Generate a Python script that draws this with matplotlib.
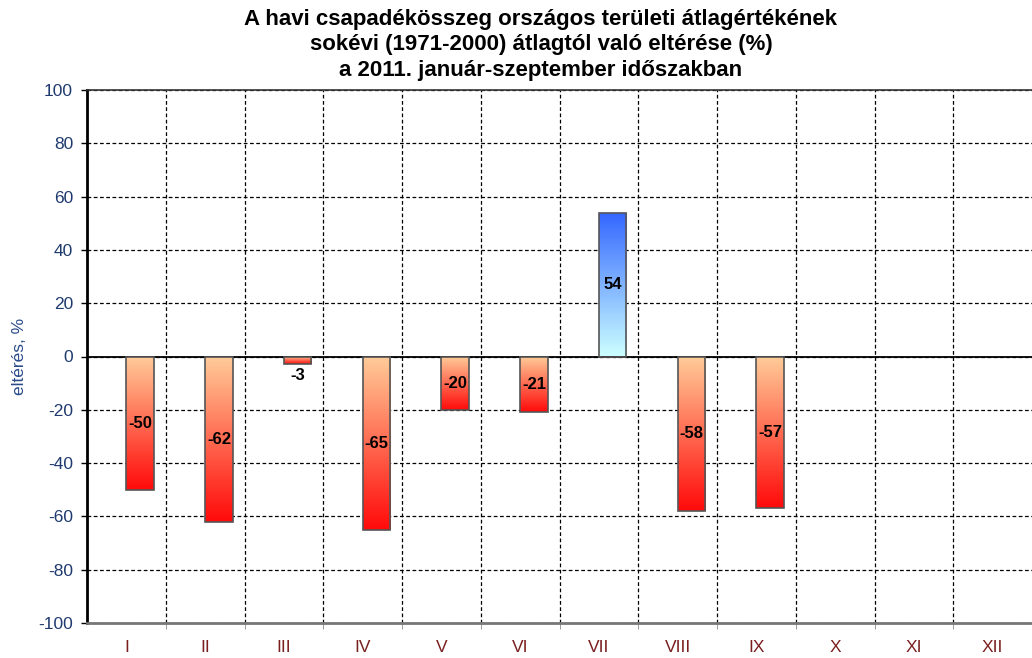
import matplotlib
matplotlib.use("Agg")

import numpy as np
import matplotlib.pyplot as plt
from matplotlib.colors import LinearSegmentedColormap
from matplotlib.patches import Rectangle

months = ["I", "II", "III", "IV", "V", "VI", "VII", "VIII", "IX", "X", "XI", "XII"]
values = [-50, -62, -3, -65, -20, -21, 54, -58, -57]
labels = ["-50", "-62", "-3", "-65", "-20", "-21", "54", "-58", "-57"]

title = ("A havi csapadékösszeg országos területi átlagértékének\n"
         "sokévi (1971-2000) átlagtól való eltérése (%)\n"
         "a 2011. január-szeptember időszakban")

plt.rcParams["font.family"] = ["Liberation Sans", "DejaVu Sans"]
plt.rcParams["axes.unicode_minus"] = False

fig = plt.figure(figsize=(10.32, 6.58), dpi=100)
ax = fig.add_axes([87 / 1032, 1 - 623 / 658, 1 - 87 / 1032, (623 - 90) / 658])

# gradients: negatives light orange at 0 -> red at bottom; positive cyan -> blue
neg_cmap = LinearSegmentedColormap.from_list("neg", ["#ff0a0a", "#ffcc99"])
pos_cmap = LinearSegmentedColormap.from_list("pos", ["#ccffff", "#3366ff"])
grad = np.linspace(0, 1, 256).reshape(-1, 1)

width = 0.35
for i, v in enumerate(values):
    x0 = i
    if v < 0:
        cmap = neg_cmap
        ext = (x0, x0 + width, v, 0)
    else:
        cmap = pos_cmap
        ext = (x0, x0 + width, 0, v)
    im = ax.imshow(grad, cmap=cmap, extent=ext, origin="lower",
                   aspect="auto", zorder=3)
    rect = Rectangle((x0, min(v, 0)), width, abs(v), facecolor="none",
                     edgecolor="#555555", linewidth=1.2, zorder=4)
    ax.add_patch(rect)
    im.set_clip_path(rect)
    ly = v / 2 if abs(v) > 5 else v - 4
    ax.text(x0 + width / 2, ly, labels[i], ha="center", va="center",
            fontsize=12, fontweight="bold", color="black", zorder=5)

ax.set_xlim(-0.5, 11.5)
ax.set_ylim(-100, 100)
ax.set_yticks(np.arange(-100, 101, 20))
ax.set_xticks(range(12))
ax.set_xticklabels(months)
ax.set_xticks(np.arange(0.5, 11.5, 1), minor=True)

ax.grid(True, axis="y", linestyle=(0, (3, 2)), color="black", linewidth=0.9, zorder=1)
ax.grid(True, axis="x", which="minor", linestyle=(0, (3, 2)), color="black",
        linewidth=0.9, zorder=1)
ax.axhline(0, color="black", linewidth=1.3, zorder=2)

ax.tick_params(axis="x", which="major", length=0, pad=12, labelsize=12.5,
               labelcolor="#7a1f1f")
ax.tick_params(axis="x", which="minor", length=4, color="#888888")
ax.tick_params(axis="y", length=4, width=1, pad=6, labelsize=12.5,
               labelcolor="#1f3a6e")

ax.spines["left"].set_linewidth(2)
ax.spines["left"].set_color("black")
ax.spines["top"].set_color("#333333")
ax.spines["top"].set_linewidth(1.2)
ax.spines["bottom"].set_color("#777777")
ax.spines["bottom"].set_linewidth(2)
ax.spines["right"].set_visible(False)

ax.set_ylabel("eltérés, %", fontsize=12.5, color="#2a4a8a")
ax.yaxis.set_label_coords((27 - 87) / 945, 0.5)

fig.text(541 / 1032, 0.987, title, ha="center", va="top", fontsize=16,
         fontweight="bold", linespacing=1.3)

fig.savefig("out.png", dpi=100)
